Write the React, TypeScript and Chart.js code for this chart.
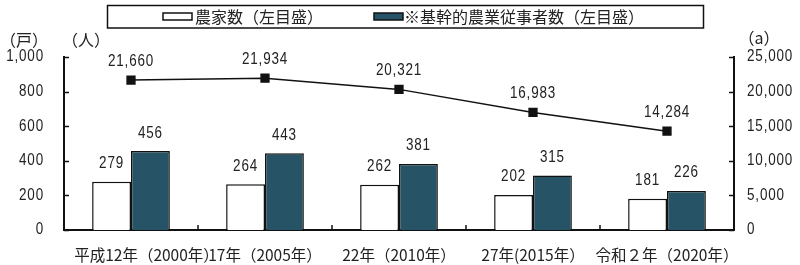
import React, { useEffect, useRef } from "react";
import { Chart, registerables } from "chart.js";

Chart.register(...registerables);

const categories = [
  "　　平成12年（2000年）",
  "17年（2005年）",
  "22年（2010年）",
  "27年(2015年）",
  "令和２年（2020年）",
];
const farmHouseholds = [279, 264, 262, 202, 181];
const coreWorkers = [456, 443, 381, 315, 226];
const farmlandArea = [21660, 21934, 20321, 16983, 14284];

const leftTicks = [0, 200, 400, 600, 800, 1000];
const rightTicks = [0, 5000, 10000, 15000, 20000, 25000];

const labelFarm = "農家数（左目盛）";
const labelWorkers = "※基幹的農業従事者数（左目盛）";

const DARK = "#265466";
const TEXT = "#222";
const NUM_FONT = "16px 'Liberation Sans', sans-serif";
const NUM_SCALE = 0.84;
const JP_FONT = "'Noto Sans CJK JP', sans-serif";

const fmt = (v: number) => v.toLocaleString("en-US");

function drawNum(ctx: CanvasRenderingContext2D, text: string, x: number, y: number, align: CanvasTextAlign) {
  ctx.save();
  ctx.translate(x, y);
  ctx.scale(NUM_SCALE, 1);
  ctx.font = NUM_FONT;
  (ctx as any).letterSpacing = "1px";
  ctx.textAlign = align;
  ctx.textBaseline = "middle";
  ctx.fillStyle = TEXT;
  ctx.fillText(text, 0, 0);
  ctx.restore();
}

const overlayPlugin = {
  id: "overlay",
  afterDraw(chart: any) {
    const ctx = chart.ctx;
    const area = chart.chartArea;
    const xs = chart.scales.x;
    const yl = chart.scales.y;
    const yr = chart.scales.y1;
    ctx.save();
    ctx.strokeStyle = "#111";
    ctx.lineWidth = 1.5;
    leftTicks.forEach((t) => {
      const yp = yl.getPixelForValue(t);
      const y = Math.round(yp) + 0.5;
      ctx.beginPath();
      ctx.moveTo(area.left, y);
      ctx.lineTo(area.left + 5, y);
      ctx.stroke();
      drawNum(ctx, fmt(t), 44, yp, "right");
    });
    rightTicks.forEach((t) => {
      const yp = yr.getPixelForValue(t);
      const y = Math.round(yp) + 0.5;
      ctx.beginPath();
      ctx.moveTo(area.right, y);
      ctx.lineTo(area.right - 5, y);
      ctx.stroke();
      drawNum(ctx, fmt(t), 747, yp, "left");
    });
    for (let i = 1; i < categories.length; i++) {
      const x = (xs.getPixelForValue(i - 1) + xs.getPixelForValue(i)) / 2;
      ctx.beginPath();
      ctx.moveTo(x, area.bottom);
      ctx.lineTo(x, area.bottom - 5);
      ctx.stroke();
    }

    chart.data.datasets.forEach((ds: any, di: number) => {
      const meta = chart.getDatasetMeta(di);
      meta.data.forEach((el: any, i: number) => {
        const v = ds.data[i];
        const off = ds.type === "line" ? 19 : 18;
        drawNum(ctx, fmt(v), el.x, el.y - off, "center");
      });
    });

    ctx.fillStyle = TEXT;
    ctx.textBaseline = "middle";
    ctx.font = `16px ${JP_FONT}`;
    ctx.textAlign = "center";
    ctx.fillText("（戸）", 24, 40);
    ctx.fillText("（人）", 86, 40);
    ctx.fillText("（a）", 759, 38);

    ctx.lineWidth = 1.5;
    ctx.strokeStyle = "#111";
    ctx.strokeRect(107.5, 5.5, 596, 22.5);
    ctx.fillStyle = "#fff";
    ctx.fillRect(163, 13, 29, 7);
    ctx.strokeRect(163, 13, 29, 7);
    ctx.fillStyle = DARK;
    ctx.fillRect(374, 13, 29, 7);
    ctx.strokeRect(374, 13, 29, 7);
    ctx.fillStyle = TEXT;
    ctx.textAlign = "left";
    ctx.font = `16px ${JP_FONT}`;
    ctx.fillText(labelFarm, 195, 17);
    ctx.fillText(labelWorkers, 404, 17);
    ctx.restore();
  },
};

export default function App() {
  const ref = useRef<HTMLCanvasElement>(null);
  useEffect(() => {
    if (!ref.current) return;
    const chart = new Chart(ref.current, {
      type: "bar",
      data: {
        labels: categories,
        datasets: [
          {
            type: "line",
            label: "経営耕地面積",
            data: farmlandArea,
            yAxisID: "y1",
            borderColor: "#111",
            backgroundColor: "#111",
            borderWidth: 1.5,
            pointStyle: "rect",
            pointRadius: 5.5,
            order: 0,
          } as any,
          {
            label: labelFarm,
            data: farmHouseholds,
            yAxisID: "y",
            backgroundColor: "#fff",
            borderColor: "#111",
            borderWidth: 1.5,
            categoryPercentage: 0.58,
            barPercentage: 1,
            order: 1,
          },
          {
            label: labelWorkers,
            data: coreWorkers,
            yAxisID: "y",
            backgroundColor: DARK,
            borderColor: "#111",
            borderWidth: 1.5,
            categoryPercentage: 0.58,
            barPercentage: 1,
            order: 1,
          },
        ],
      },
      options: {
        animation: false,
        responsive: false,
        devicePixelRatio: 1,
        layout: { padding: { top: 57, left: 0, right: 0, bottom: 0 } },
        plugins: {
          legend: { display: false },
          tooltip: { enabled: false },
        },
        scales: {
          x: {
            grid: { display: false },
            border: { display: true, color: "#111", width: 2 },
            ticks: {
              autoSkip: false,
              maxRotation: 0,
              minRotation: 0,
              padding: 8,
              color: TEXT,
              font: { family: JP_FONT, size: 15.5 },
            },
            afterFit: (s: any) => {
              s.height = 35;
            },
          },
          y: {
            position: "left",
            min: 0,
            max: 1000,
            grid: { display: false },
            border: { display: true, color: "#111", width: 2 },
            afterBuildTicks: (s: any) => {
              s.ticks = leftTicks.map((v) => ({ value: v }));
            },
            ticks: { display: false },
            afterFit: (s: any) => {
              s.width = 64;
            },
          },
          y1: {
            position: "right",
            min: 0,
            max: 25000,
            grid: { display: false },
            border: { display: true, color: "#111", width: 2 },
            afterBuildTicks: (s: any) => {
              s.ticks = rightTicks.map((v) => ({ value: v }));
            },
            ticks: { display: false },
            afterFit: (s: any) => {
              s.width = 66;
            },
          },
        },
      },
      plugins: [overlayPlugin],
    });
    return () => chart.destroy();
  }, []);
  return (
    <div style={{ position: "absolute", left: 0, top: 0, width: 800, height: 265, background: "#fff" }}>
      <canvas ref={ref} width={800} height={265} />
    </div>
  );
}
